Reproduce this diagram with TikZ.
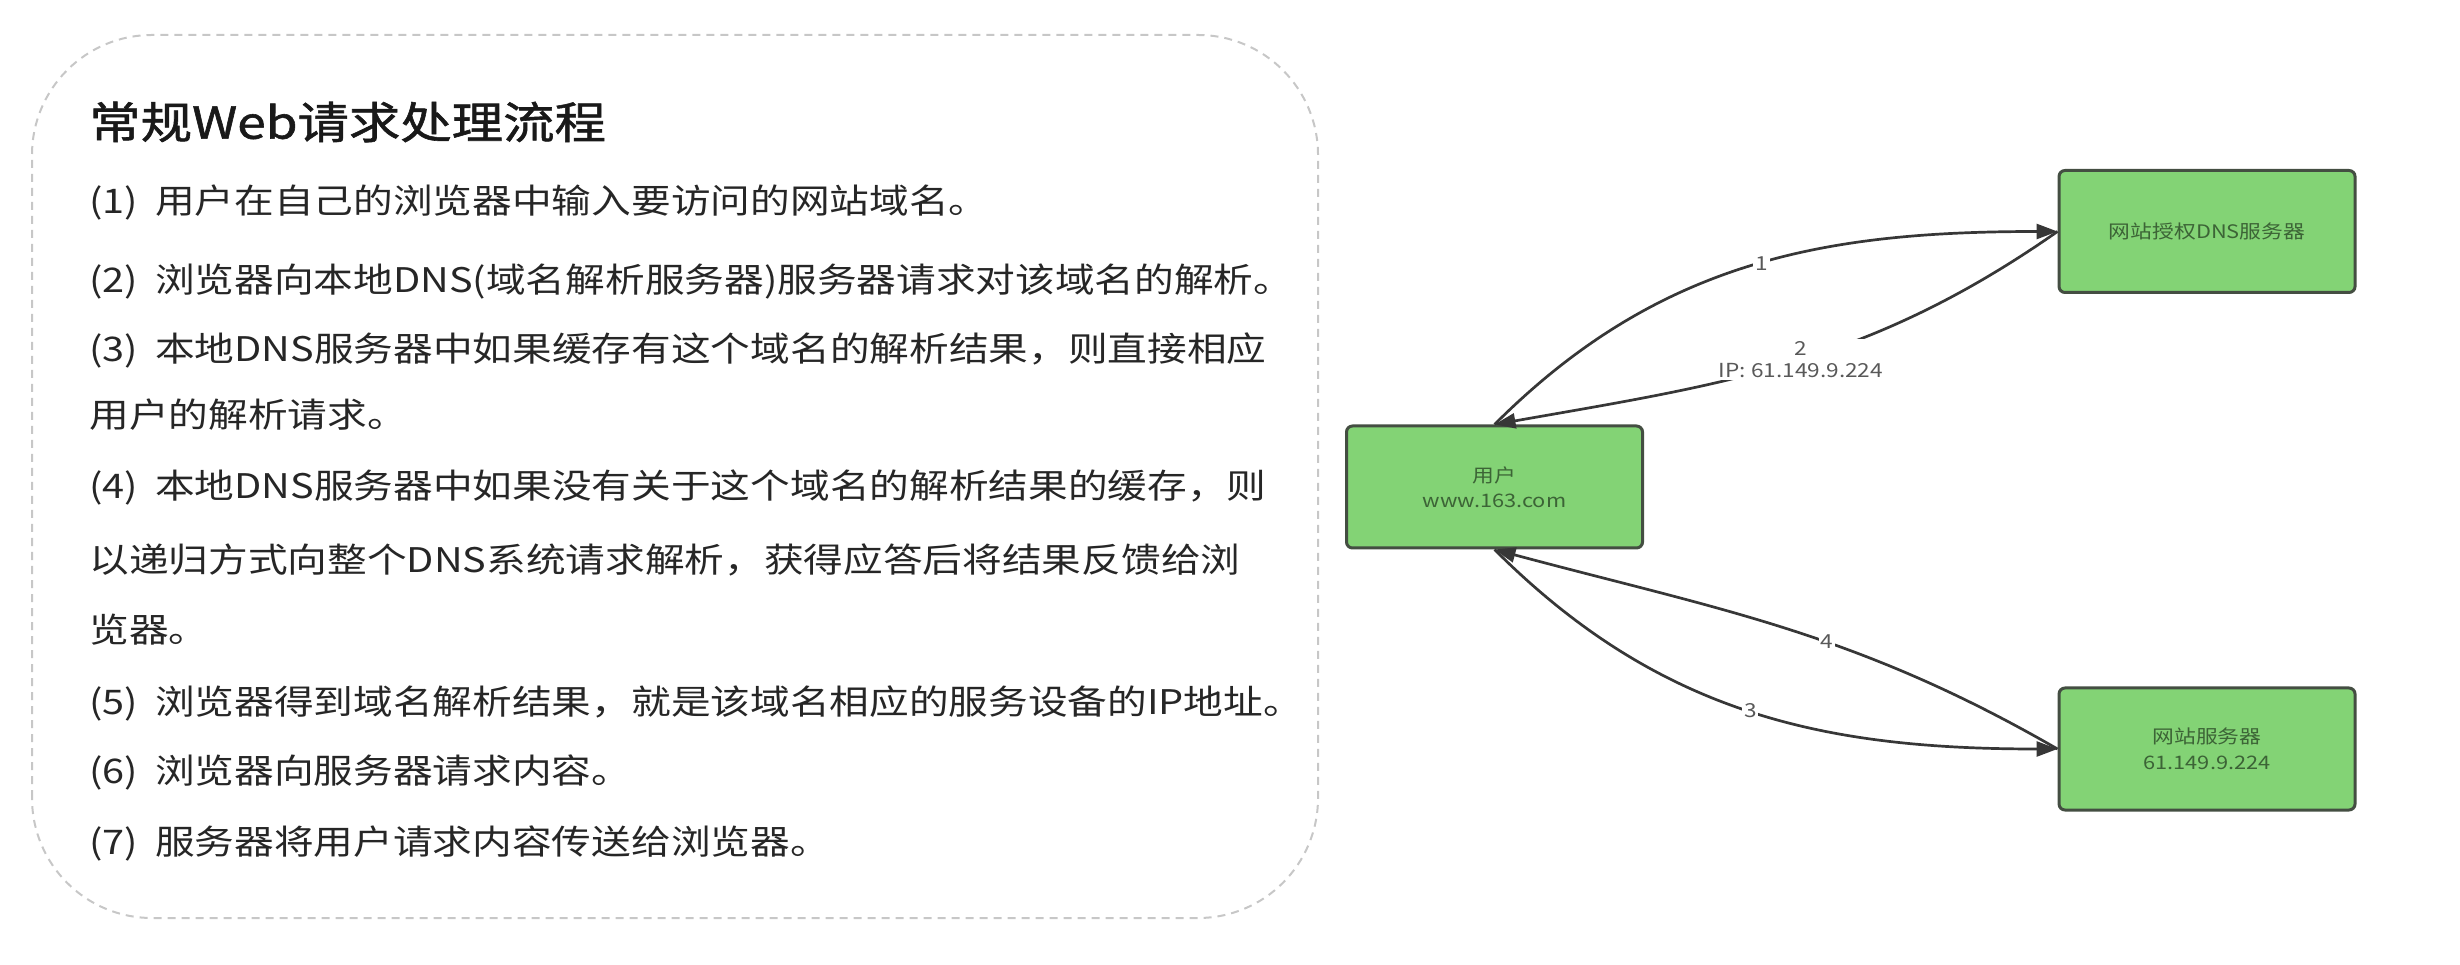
\documentclass[tikz,border=0pt]{standalone}
\usepackage{fontspec}
\setmainfont{Noto Sans CJK SC}[FakeStretch=1.17]
\newfontfamily\headfont{Noto Sans CJK SC}[FakeStretch=1.17, FakeBold=1.3]
\usepackage{tikz}
\usetikzlibrary{arrows.meta, positioning}
\definecolor{hostFill}{RGB}{131,211,117}
\definecolor{hostLine}{RGB}{68,78,66}
\definecolor{hostText}{RGB}{60,100,54}
\definecolor{flowLine}{RGB}{55,55,55}
\tikzstyle{frameBox}=[draw=black!22, line width=0.04cm, dash pattern=on 0.16cm off 0.12cm, rounded corners=2.4cm]
\tikzstyle{titleText}=[anchor=west, inner sep=0pt, text=black!90, font=\headfont\fontsize{25}{30}\selectfont]
\tikzstyle{stepLine}=[anchor=west, inner sep=0pt, text=black!85, font=\fontsize{19.3}{22}\selectfont]
\tikzstyle{hostBox}=[draw=hostLine, fill=hostFill, line width=0.06cm, rounded corners=0.12cm,
  minimum width=5.92cm, minimum height=2.44cm, align=center, text=hostText,
  font=\fontsize{10.6}{14.5}\selectfont]
\tikzstyle{flow}=[-{Triangle[length=0.42cm, width=0.3cm]}, line width=0.054cm, draw=flowLine]
\tikzstyle{flowLabel}=[fill=white, inner sep=1pt, text=black!65, align=center,
  font=\fontsize{11}{13}\selectfont]

\begin{document}
\begin{tikzpicture}
  \useasboundingbox (0,0) rectangle (49.2,19.28);
  % text panel
  \draw[frameBox] (0.64,0.92) rectangle (26.36,18.58);
  \node[titleText] (title) at (1.78,16.84) {常规Web请求处理流程};
  \foreach \n/\y/\t in {1/15.22/{(1)\enspace 用户在自己的浏览器中输入要访问的网站域名。},
      2/13.64/{(2)\enspace 浏览器向本地DNS(域名解析服务器)服务器请求对该域名的解析。},
      3/12.28/{(3)\enspace 本地DNS服务器中如果缓存有这个域名的解析结果，则直接相应},
      4/10.98/{用户的解析请求。},
      5/9.54/{(4)\enspace 本地DNS服务器中如果没有关于这个域名的解析结果的缓存，则},
      6/8.08/{以递归方式向整个DNS系统请求解析，获得应答后将结果反馈给浏},
      7/6.68/{览器。},
      8/5.22/{(5)\enspace 浏览器得到域名解析结果，就是该域名相应的服务设备的IP地址。},
      9/3.84/{(6)\enspace 浏览器向服务器请求内容。},
      10/2.42/{(7)\enspace 服务器将用户请求内容传送给浏览器。}}
    \node[stepLine] (step\n) at (1.78,\y) {\t};

  % hosts
  \node[hostBox] (user) at (29.89,9.54) {用户\\www.163.com};
  \node[hostBox] (dns) at (44.14,14.65) {网站授权DNS服务器};
  \node[hostBox] (server) at (44.14,4.30) {网站服务器\\61.149.9.224};

  % requests and answers
  \draw[flow] (user.north) to[out=45, in=180]
    node[flowLabel, pos=0.52] (lab1) {1} (dns.west);
  \draw[flow] (dns.west) to[out=215, in=10]
    node[flowLabel, pos=0.48] (lab2) {2\\IP: 61.149.9.224} (user.north);
  \draw[flow] (user.south) to[out=-45, in=180]
    node[flowLabel, pos=0.5] (lab3) {3} (server.west);
  \draw[flow] (server.west) to[out=150, in=-15]
    node[flowLabel, pos=0.42] (lab4) {4} (user.south);
\end{tikzpicture}
\end{document}
